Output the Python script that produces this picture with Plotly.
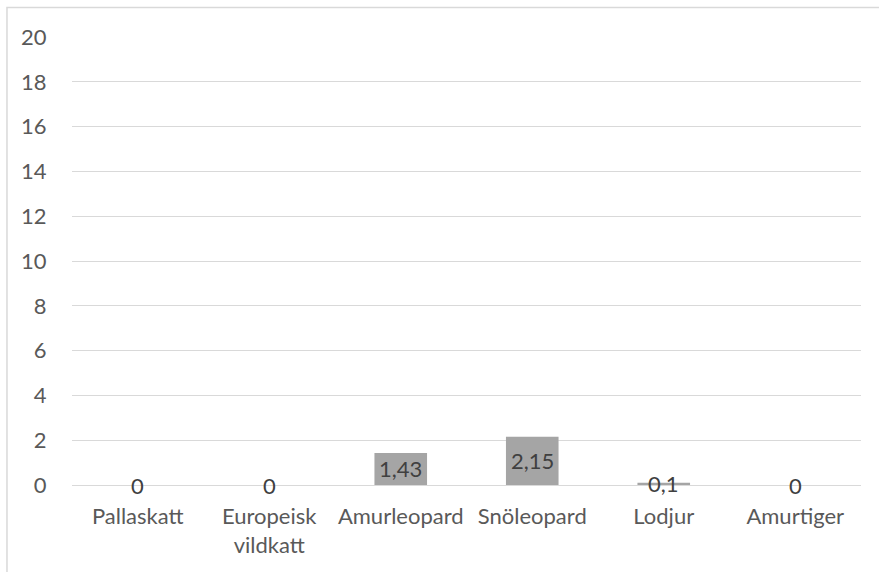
import plotly.graph_objects as go

# Chart data
categories = ["Pallaskatt", "Europeisk<br>vildkatt", "Amurleopard", "Snöleopard", "Lodjur", "Amurtiger"]
values = [0, 0, 1.43, 2.15, 0.1, 0]
y_ticks = [0, 2, 4, 6, 8, 10, 12, 14, 16, 18, 20]

FONT = "Lato"
FONT_SIZE = 22
AXIS_TEXT = "#595959"
LABEL_TEXT = "#404040"
GRID = "#D9D9D9"
BAR = "#A5A5A5"

fig = go.Figure(
    go.Bar(
        x=categories,
        y=values,
        width=0.4,
        marker=dict(color=BAR, line=dict(width=0)),
        hoverinfo="skip",
    )
)

# Value labels centred in each bar, decimal comma
def fmt(v):
    return f"{v:g}".replace(".", ",")

for c, v in zip(categories, values):
    fig.add_annotation(
        x=c, y=v / 2, text=fmt(v), showarrow=False,
        xanchor="center", yanchor="middle",
        font=dict(family=FONT, size=FONT_SIZE, color=LABEL_TEXT),
    )

# Chart frame
fig.add_shape(
    type="rect", xref="paper", yref="paper",
    x0=-0.0824, x1=1.03, y0=-0.22, y1=1.0658,
    line=dict(color=GRID, width=1.5), fillcolor="rgba(0,0,0,0)", layer="below",
)

fig.update_layout(
    width=879, height=572,
    margin=dict(l=72, r=18, t=37, b=87),
    paper_bgcolor="white", plot_bgcolor="white",
    showlegend=False,
    font=dict(family=FONT, size=FONT_SIZE, color=AXIS_TEXT),
    bargap=0.6,
)
fig.update_xaxes(
    showgrid=False, showline=False, zeroline=False,
    ticks="outside", ticklen=12, tickcolor="rgba(0,0,0,0)",
    tickfont=dict(family=FONT, size=FONT_SIZE, color=AXIS_TEXT),
    fixedrange=True,
)
fig.update_yaxes(
    range=[0, 20], tickvals=y_ticks, ticktext=[str(t) for t in y_ticks],
    showgrid=True, gridcolor=GRID, gridwidth=1.3,
    zeroline=True, zerolinecolor=GRID, zerolinewidth=1.3,
    showline=False,
    ticks="outside", ticklen=20, tickcolor="rgba(0,0,0,0)",
    tickfont=dict(family=FONT, size=FONT_SIZE, color=AXIS_TEXT),
    fixedrange=True,
)

fig.write_html("out.html")
